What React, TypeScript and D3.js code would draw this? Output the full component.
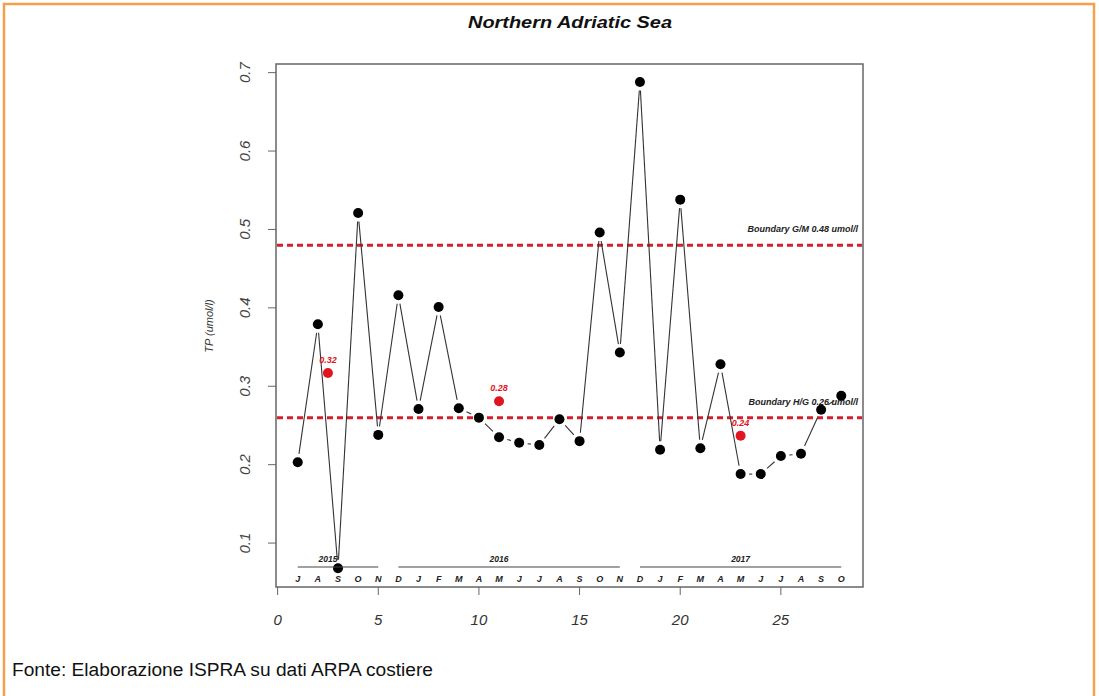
import React from "react";
import * as d3 from "d3";

const months = ["J","A","S","O","N","D","J","F","M","A","M","J","J","A","S","O","N","D","J","F","M","A","M","J","J","A","S","O"];
const tpValues = [0.203,0.379,0.068,0.521,0.238,0.416,0.271,0.401,0.272,0.260,0.235,0.228,0.225,0.258,0.230,0.496,0.343,0.688,0.219,0.538,0.221,0.328,0.188,0.188,0.211,0.214,0.270,0.288];
const yearNames = ["2015","2016","2017"];
const yearStart = [1,6,18];
const yearEnd = [5,17,28];
const yearMeanX = [2.5,11,23];
const yearMeanValue = [0.317,0.281,0.237];
const yearMeanLabel = ["0.32","0.28","0.24"];
const boundaryValues = [0.48,0.26];
const boundaryLabels = ["Boundary G/M 0.48 umol/l","Boundary H/G 0.26 umol/l"];
const xTicks = [0,5,10,15,20,25];
const yTicks = [0.1,0.2,0.3,0.4,0.5,0.6,0.7];

const L = 276, R = 863, T = 64, B = 587;

export default function App() {
  const x = d3.scaleLinear().domain([-0.08, 29.08]).range([L, R]);
  const y = d3.scaleLinear().domain([0.044, 0.711]).range([B, T]);
  const pts = tpValues.map((v, i) => ({ px: x(i + 1), py: y(v) }));
  const gap = 8.5;
  const segs: { x1: number; y1: number; x2: number; y2: number }[] = [];
  for (let i = 0; i < pts.length - 1; i++) {
    const a = pts[i], b = pts[i + 1];
    const dx = b.px - a.px, dy = b.py - a.py;
    const len = Math.sqrt(dx * dx + dy * dy);
    if (len <= 2 * gap) continue;
    const ux = dx / len, uy = dy / len;
    segs.push({ x1: a.px + ux * gap, y1: a.py + uy * gap, x2: b.px - ux * gap, y2: b.py - uy * gap });
  }
  const font = "'Liberation Sans', Arial, sans-serif";
  return (
    <svg width={1099} height={696} style={{ position: "absolute", left: 0, top: 0, background: "#fff" }} fontFamily={font}>
      <rect x={4} y={4} width={1090} height={720} fill="none" stroke="#F5A04A" strokeWidth={2.5} />
      <text x={570} y={28} textAnchor="middle" fontSize={16} fontWeight="bold" fontStyle="italic" textLength={204} lengthAdjust="spacingAndGlyphs" fill="#111">Northern Adriatic Sea</text>
      {boundaryValues.map((b, i) => (
        <g key={"b" + i}>
          <line x1={L + 1} x2={R - 1} y1={y(b)} y2={y(b)} stroke="#d4202c" strokeWidth={3} strokeDasharray="6,4" />
          <text x={858} y={y(b) - 13} textAnchor="end" fontSize={9} fontWeight="bold" fontStyle="italic" fill="#222">{boundaryLabels[i]}</text>
        </g>
      ))}
      {segs.map((s, i) => (
        <line key={"s" + i} x1={s.x1} y1={s.y1} x2={s.x2} y2={s.y2} stroke="#333" strokeWidth={1.1} />
      ))}
      {pts.map((p, i) => (
        <circle key={"p" + i} cx={p.px} cy={p.py} r={5} fill="#000" />
      ))}
      {yearMeanX.map((xv, i) => (
        <g key={"m" + i}>
          <circle cx={x(xv)} cy={y(yearMeanValue[i])} r={5} fill="#e0151f" />
          <text x={x(xv)} y={y(yearMeanValue[i]) - 10} textAnchor="middle" fontSize={9} fontWeight="bold" fontStyle="italic" fill="#e0151f">{yearMeanLabel[i]}</text>
        </g>
      ))}
      {yearNames.map((yn, i) => (
        <g key={"y" + i}>
          <line x1={x(yearStart[i])} x2={x(yearEnd[i])} y1={567} y2={567} stroke="#444" strokeWidth={1.2} />
          <text x={x(yearMeanX[i])} y={562} textAnchor="middle" fontSize={8.5} fontWeight="bold" fontStyle="italic" fill="#222">{yn}</text>
        </g>
      ))}
      {months.map((m, i) => (
        <text key={"mo" + i} x={x(i + 1)} y={582} textAnchor="middle" fontSize={9} fontWeight="bold" fontStyle="italic" fill="#222">{m}</text>
      ))}
      <rect x={L} y={T} width={R - L} height={B - T} fill="none" stroke="#666" strokeWidth={1.5} />
      {xTicks.map(t => (
        <g key={"xt" + t}>
          <line x1={x(t)} x2={x(t)} y1={B} y2={B + 8} stroke="#666" strokeWidth={1} />
          <text x={x(t)} y={625} textAnchor="middle" fontSize={15} fontStyle="italic" fill="#333">{t}</text>
        </g>
      ))}
      {yTicks.map(t => (
        <g key={"yt" + t}>
          <line x1={L - 8} x2={L} y1={y(t)} y2={y(t)} stroke="#666" strokeWidth={1} />
          <text transform={`translate(250,${y(t)}) rotate(-90)`} textAnchor="middle" fontSize={15} fontStyle="italic" fill="#444">{t.toFixed(1)}</text>
        </g>
      ))}
      <text transform={`translate(213,${326}) rotate(-90)`} textAnchor="middle" fontSize={11} fontStyle="italic" fill="#333">TP (umol/l)</text>
      <text x={12} y={676} fontSize={18} textLength={421} lengthAdjust="spacingAndGlyphs" fill="#111">Fonte: Elaborazione ISPRA su dati ARPA costiere</text>
    </svg>
  );
}
